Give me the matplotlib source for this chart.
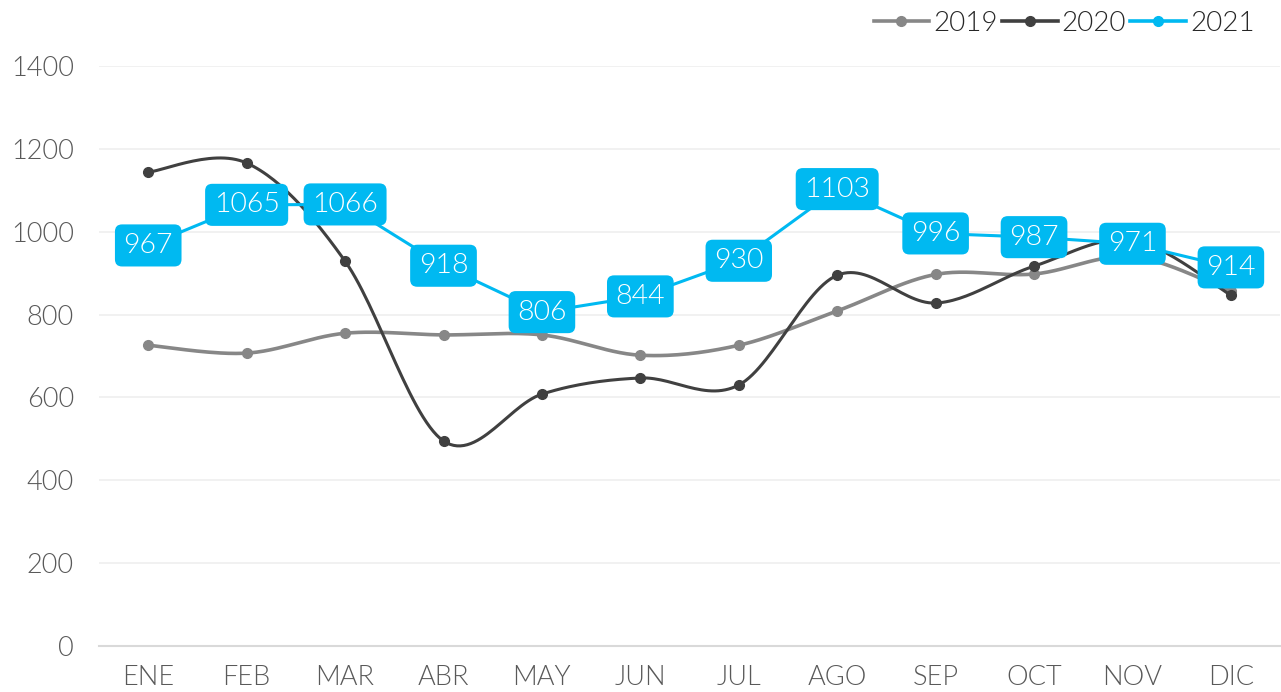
import matplotlib
matplotlib.use("Agg")
import matplotlib.pyplot as plt
import numpy as np

months = ["ENE", "FEB", "MAR", "ABR", "MAY", "JUN", "JUL", "AGO", "SEP", "OCT", "NOV", "DIC"]
v2019 = [726, 707, 755, 751, 751, 702, 726, 809, 897, 898, 940, 856]
v2020 = [1144, 1166, 929, 495, 608, 647, 630, 895, 828, 917, 980, 847]
v2021 = [967, 1065, 1066, 918, 806, 844, 930, 1103, 996, 987, 971, 914]
yticks = [0, 200, 400, 600, 800, 1000, 1200, 1400]

plt.rcParams['font.family'] = ['Lato', 'DejaVu Sans']
FW = 300

def smooth(xs, ys, n=30):
    xs = np.asarray(xs, float); ys = np.asarray(ys, float)
    P = np.column_stack([xs, ys])
    out = []
    for i in range(len(P) - 1):
        p0 = P[i - 1] if i > 0 else P[i]
        p1 = P[i]; p2 = P[i + 1]
        p3 = P[i + 2] if i + 2 < len(P) else P[i + 1]
        c1 = p1 + (p2 - p0) / 6.0
        c2 = p2 - (p3 - p1) / 6.0
        t = np.linspace(0, 1, n)[:, None]
        seg = (1 - t) ** 3 * p1 + 3 * (1 - t) ** 2 * t * c1 + 3 * (1 - t) * t ** 2 * c2 + t ** 3 * p2
        out.append(seg if i == 0 else seg[1:])
    s = np.vstack(out)
    return s[:, 0], s[:, 1]

fig = plt.figure(figsize=(12.81, 6.92), dpi=100)
ax = fig.add_axes([0.0773, 0.0665, 0.922, 0.838])
x = np.arange(len(months))

c19, c20, c21 = "#878787", "#404040", "#00B9F1"

sx, sy = smooth(x, v2019)
ax.plot(sx, sy, color=c19, lw=2.6, zorder=3, solid_capstyle='round')
ax.plot(x, v2019, 'o', color=c19, ms=7, zorder=3)
sx, sy = smooth(x, v2020)
ax.plot(sx, sy, color=c20, lw=2.2, zorder=4, solid_capstyle='round')
ax.plot(x, v2020, 'o', color=c20, ms=7, zorder=4)
ax.plot(x, v2021, '-o', color=c21, lw=2.2, ms=7, zorder=5)

for xi, v in zip(x, v2021):
    ax.text(xi, v, str(v), ha='center', va='center', color='white', fontsize=20.5,
            fontweight=FW, zorder=6,
            bbox=dict(boxstyle='round,pad=0.3,rounding_size=0.25', fc=c21, ec='none'))

h19 = plt.Line2D([], [], color=c19, lw=2.6, marker='o', ms=7)
h20 = plt.Line2D([], [], color=c20, lw=2.6, marker='o', ms=7)
h21 = plt.Line2D([], [], color=c21, lw=2.6, marker='o', ms=7)
leg = fig.legend([h19, h20, h21], ["2019", "2020", "2021"], loc='upper right',
                 bbox_to_anchor=(0.999, 1.02), ncol=3, frameon=False, fontsize=20,
                 handlelength=2.0, handletextpad=0.15, columnspacing=0.15)
for t in leg.get_texts():
    t.set_color("#262626"); t.set_fontweight(FW)

ax.set_xlim(-0.5, len(months) - 0.5)
ax.set_ylim(0, 1400)
ax.set_yticks(yticks)
ax.set_xticks(x)
ax.set_xticklabels(months)
ax.grid(axis='y', color='#EFEFEF', lw=1.2, zorder=0)
for s in ['top', 'right', 'left']:
    ax.spines[s].set_visible(False)
ax.spines['bottom'].set_color('#D9D9D9')
ax.spines['bottom'].set_linewidth(1.5)
ax.tick_params(axis='both', length=0, labelsize=19.5, colors='#595959', pad=14)
ax.tick_params(axis='y', pad=18)
for lab in ax.get_xticklabels() + ax.get_yticklabels():
    lab.set_fontweight(FW)

fig.savefig("out.png", dpi=100, facecolor='white')
